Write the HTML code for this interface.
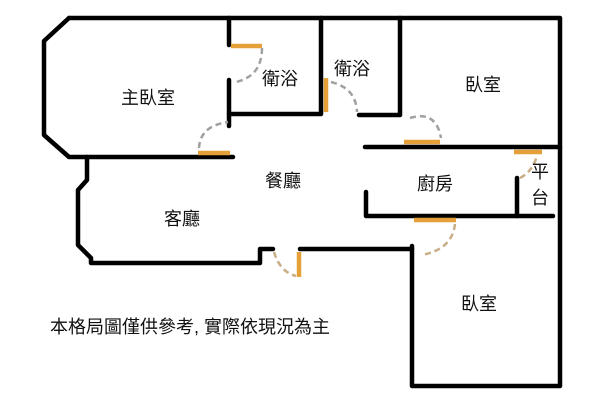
<!DOCTYPE html>
<html><head><meta charset="utf-8"><style>
html,body{margin:0;padding:0;background:#fff;}
svg{display:block;}
text{font-family:"Liberation Sans","Noto Sans CJK TC",sans-serif;fill:#111;}
</style></head><body>
<svg width="600" height="407" viewBox="0 0 600 407" xmlns="http://www.w3.org/2000/svg">
<g fill="none" stroke="#000" stroke-width="4.5" stroke-linecap="round" stroke-linejoin="round">
<path d="M69,18 L560,18 L560,386 L412,386 L412,246"/>
<path d="M69,18 L44,41 L44,135 L69,157 L233,157"/>
<path d="M229,18 L229,45"/>
<path d="M229,80 L229,126"/>
<path d="M229,114 L321,114 L321,18"/>
<path d="M400,18 L400,115 L359,115"/>
<path d="M365,147 L560,147"/>
<path d="M366,192 L366,216 L553,216"/>
<path d="M517,178 L517,216"/>
<path d="M87,157 L87,180 L78,190 L78,245 L91,258 L91,263 L260,263 L260,249 L273,249"/>
<path d="M300,249 L412,249"/>
</g>
<g stroke="#e5a03a" stroke-width="4.5" stroke-linecap="butt">
<line x1="231" y1="46" x2="262" y2="46"/>
<line x1="326" y1="78" x2="326" y2="112"/>
<line x1="198" y1="153" x2="230" y2="153"/>
<line x1="404" y1="142" x2="440" y2="142"/>
<line x1="514" y1="152" x2="542" y2="152"/>
<line x1="414" y1="220" x2="456" y2="220"/>
<line x1="299" y1="252" x2="299" y2="277"/>
</g>
<g fill="none" stroke="#a0a0a0" stroke-width="2.5" stroke-dasharray="6,4">
<path d="M262,48 Q262,76 236,82"/>
<path d="M199,148 Q200,126 228,122"/>
<path d="M331,82 Q356,88 357,112"/>
<path d="M410,118 Q436,110 441,138"/>
</g>
<g fill="none" stroke="#c8ad85" stroke-width="2.5" stroke-dasharray="6,4">
<path d="M455,224 Q452,250 421,255"/>
<path d="M520,178 Q532,172 537,156"/>
<path d="M274,252 Q280,272 296,276"/>
</g>
<g font-size="18">
<text x="121" y="104">主臥室</text>
<text x="262" y="85">衛浴</text>
<text x="334" y="75">衛浴</text>
<text x="465" y="91">臥室</text>
<text x="265" y="187">餐廳</text>
<text x="417" y="190">廚房</text>
<text x="531" y="178">平</text>
<text x="531" y="204">台</text>
<text x="164" y="225">客廳</text>
<text x="461" y="310">臥室</text>
<text x="50" y="333">本格局圖僅供參考, 實際依現況為主</text>
</g>
</svg>
</body></html>
